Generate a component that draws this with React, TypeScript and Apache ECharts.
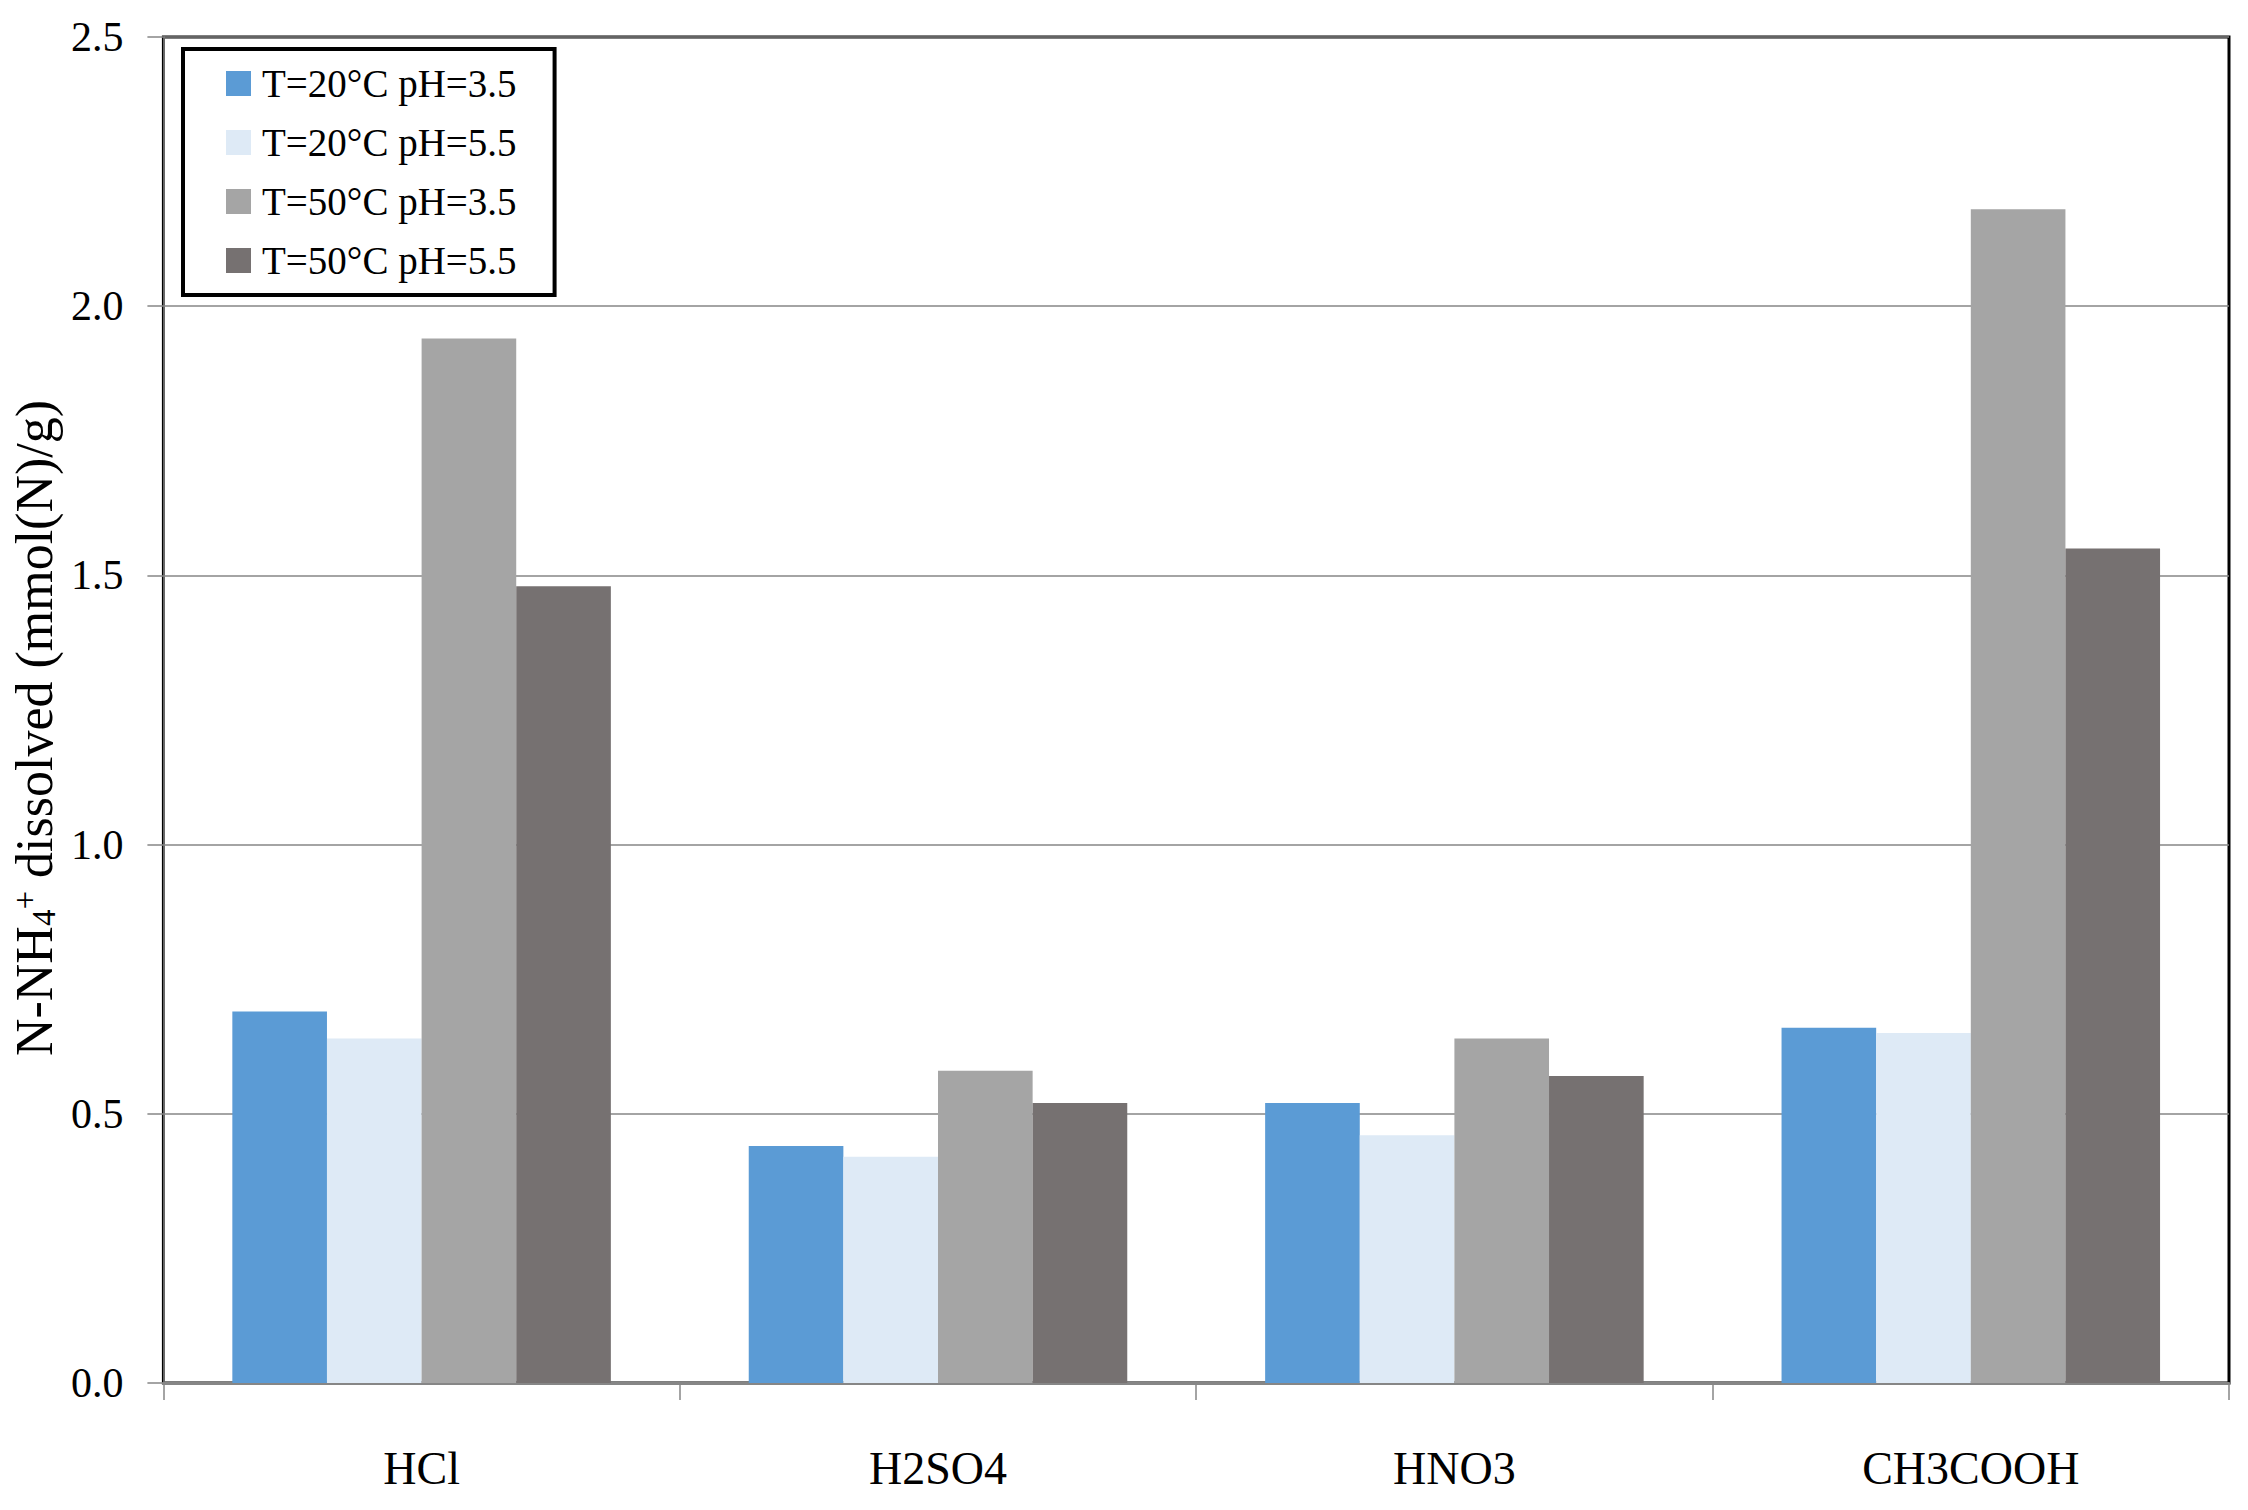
import React, { useEffect, useRef } from "react";
import * as echarts from "echarts";

const categories = ["HCl", "H2SO4", "HNO3", "CH3COOH"];
const seriesNames = ["T=20°C pH=3.5", "T=20°C pH=5.5", "T=50°C pH=3.5", "T=50°C pH=5.5"];
const t20ph35 = [0.69, 0.44, 0.52, 0.66];
const t20ph55 = [0.64, 0.42, 0.46, 0.65];
const t50ph35 = [1.94, 0.58, 0.64, 2.18];
const t50ph55 = [1.48, 0.52, 0.57, 1.55];
const seriesColors = ["#5B9BD5", "#DEEAF6", "#A5A5A5", "#767171"];

const FONT = "'Liberation Serif', 'Times New Roman', serif";

export default function App() {
  const ref = useRef<HTMLDivElement>(null);
  useEffect(() => {
    if (!ref.current) return;
    const chart = echarts.init(ref.current, undefined, { renderer: "svg" });
    const values = [t20ph35, t20ph55, t50ph35, t50ph55];
    chart.setOption({
      animation: false,
      backgroundColor: "#ffffff",
      textStyle: { fontFamily: FONT, color: "#000" },
      grid: {
        left: 162,
        right: 19,
        top: 37,
        bottom: 127,
        show: true,
        borderColor: "#000",
        borderWidth: 3,
        backgroundColor: "transparent",
      },
      legend: {
        orient: "vertical",
        left: 183,
        top: 49,
        data: seriesNames,
        backgroundColor: "#fff",
        borderColor: "#000",
        borderWidth: 4,
        padding: [15, 38, 15, 43],
        itemWidth: 25,
        itemHeight: 25,
        itemGap: 20,
        icon: "rect",
        textStyle: { fontFamily: FONT, fontSize: 39, color: "#000", padding: [0, 0, 0, 6] },
      },
      xAxis: {
        type: "category",
        data: categories,
        axisLine: { lineStyle: { color: "#868686", width: 3 } },
        axisTick: { show: true, length: 17, lineStyle: { color: "#868686", width: 1.5 } },
        axisLabel: { margin: 62, fontFamily: FONT, fontSize: 46, color: "#000" },
      },
      yAxis: {
        type: "value",
        min: 0,
        max: 2.5,
        interval: 0.5,
        name: "N-NH{sub|4}{sup|+} dissolved (mmol(N)/g)",
        nameLocation: "middle",
        nameRotate: 90,
        nameGap: 80,
        nameTextStyle: {
          fontFamily: FONT,
          fontSize: 52,
          color: "#000",
          padding: [0, 36, 0, 0],
          rich: {
            sub: { fontFamily: FONT, fontSize: 33, color: "#000", verticalAlign: "bottom", padding: [17, 0, 0, 0] },
            sup: { fontFamily: FONT, fontSize: 33, color: "#000", verticalAlign: "top", padding: [0, 0, 17, 0] },
          },
        },
        axisLine: { show: true, lineStyle: { color: "#868686", width: 1.5 } },
        axisTick: { show: true, inside: false, length: 16, lineStyle: { color: "#868686", width: 1.5 } },
        axisLabel: {
          margin: 40,
          fontFamily: FONT,
          fontSize: 42,
          color: "#000",
          formatter: (v: number) => v.toFixed(1),
        },
        splitLine: { show: true, lineStyle: { color: "#868686", width: 1.5 } },
      },
      series: seriesNames.map((name, i) => ({
        name,
        type: "bar",
        data: values[i],
        barGap: "0%",
        barCategoryGap: "26.7%",
        itemStyle: { color: seriesColors[i] },
      })),
    });
    return () => chart.dispose();
  }, []);
  return (
    <div
      ref={ref}
      style={{ position: "fixed", left: 0, top: 0, width: 2248, height: 1510, background: "#fff" }}
    />
  );
}
